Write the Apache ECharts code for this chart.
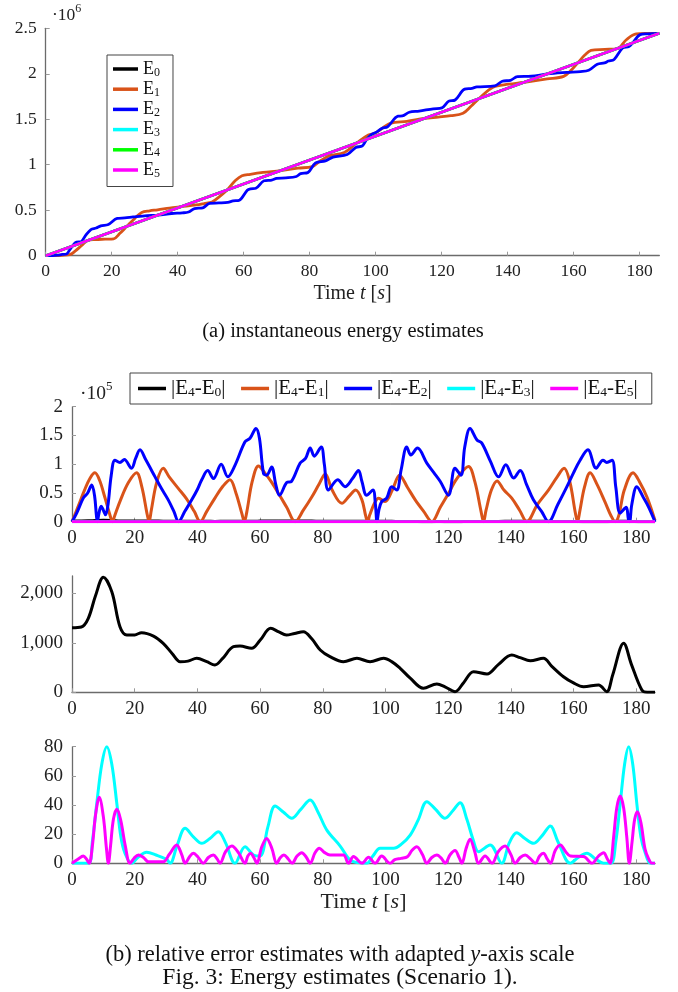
<!DOCTYPE html>
<html><head><meta charset="utf-8">
<script src="https://cdn.jsdelivr.net/npm/echarts@6/dist/echarts.min.js"></script>
<style>html,body{margin:0;padding:0;background:#fff}#c{width:678px;height:992px}</style>
</head><body><div id="c"></div>
<script>
// ---------- data ----------
const xTicks = [0, 20, 40, 60, 80, 100, 120, 140, 160, 180];
const yTicksTop = [0, 0.5, 1, 1.5, 2, 2.5];          // x 10^6
const yTicksDiff = [0, 0.5, 1, 1.5, 2];              // x 10^5
const yTicksE0 = [0, 1000, 2000];
const yTicksSmall = [0, 20, 40, 60, 80];

// (a) energy estimates, values in 10^6
const e0 = [[0, 0], [186, 2.445]];
const e3 = [[0, 0], [186, 2.445]];
const e4 = [[0, 0], [186, 2.445]];
const e5 = [[0, 0], [186, 2.445]];
const e1 = [[0,0],[5,0.005],[7.3,0.011],[9,0.053],[11,0.115],[12.9,0.17],[15,0.177],[18,0.182],[20.6,0.186],[22.5,0.246],[24.6,0.323],[27,0.41],[29.1,0.476],[31.5,0.494],[33.9,0.504],[37.5,0.523],[40.9,0.538],[45.6,0.558],[48,0.573],[50.4,0.59],[52.5,0.645],[55,0.723],[57.5,0.826],[59.5,0.879],[62,0.895],[65.9,0.915],[71.2,0.936],[76.5,0.963],[80.8,0.979],[83,1.036],[86.1,1.1],[90.5,1.135],[94.3,1.24],[97.8,1.327],[99.9,1.348],[104.5,1.455],[109.5,1.477],[114.8,1.509],[119,1.524],[122.8,1.539],[126.5,1.567],[129,1.646],[131.3,1.726],[135.6,1.853],[140.3,1.885],[145.1,1.907],[152,1.943],[157,1.971],[159.5,2.047],[161.3,2.12],[163.5,2.209],[165.3,2.258],[169.5,2.268],[173.3,2.278],[176,2.374],[179,2.438],[182.5,2.444],[186,2.445]];
const e2 = [[0,0],[2,0.001],[3.6,0.006],[5,0.014],[6.3,0.019],[7.2,0.06],[8.1,0.1065],[9.3,0.149],[10.7,0.153],[12,0.218],[13.7,0.287],[15.3,0.304],[16.7,0.328],[19,0.343],[21.7,0.41],[24,0.4155],[26.5,0.426],[30.7,0.4415],[34,0.447],[38.2,0.464],[41.4,0.471],[43.3,0.48],[45.1,0.518],[47.6,0.526],[49.7,0.575],[52.5,0.58],[55.2,0.587],[56.8,0.602],[58.7,0.61],[61.1,0.719],[62.1,0.735],[63.7,0.742],[66.2,0.824],[68.5,0.832],[70,0.85],[72.8,0.855],[76,0.871],[77.3,0.902],[79.5,0.915],[81.8,1.02],[84.8,1.042],[87.1,1.084],[91.4,1.112],[94,1.19],[96,1.207],[97.3,1.279],[98.8,1.334],[100.4,1.361],[102,1.402],[103.6,1.417],[106.8,1.534],[108.1,1.537],[110.2,1.577],[113.2,1.59],[117.5,1.615],[120.1,1.625],[122.2,1.699],[124.1,1.712],[127,1.831],[129.2,1.84],[130.7,1.855],[136.1,1.867],[138.4,1.918],[140.9,1.928],[143,1.969],[147.2,1.973],[152,1.998],[157.9,2.015],[162.1,2.024],[164.6,2.039],[167.2,2.105],[169.4,2.12],[170.6,2.14],[172.3,2.158],[174.9,2.284],[176.8,2.299],[177.9,2.338],[180.2,2.43],[182.4,2.439],[186,2.445]];

// (b) relative errors
const d1 = [[0,0],[2,0.27],[4,0.55],[5.8,0.76],[7.3,0.85],[8.8,0.72],[10.5,0.42],[12.2,0.1],[12.9,0],[13.6,0.1],[15.5,0.38],[18,0.68],[20.6,0.85],[22.3,0.6],[23.9,0.15],[24.6,0],[25.3,0.2],[27,0.68],[29.1,0.93],[31,0.78],[33.9,0.58],[36.5,0.4],[39,0.18],[40.9,0],[43,0.18],[45.6,0.41],[48.2,0.62],[50.4,0.73],[52.3,0.5],[54.2,0.14],[55,0],[55.8,0.18],[57.5,0.7],[59.5,0.97],[61.5,0.85],[63.5,0.7],[65.9,0.49],[68.5,0.25],[71.2,0],[73.8,0.2],[76.5,0.43],[78.8,0.65],[80.8,0.83],[83,0.55],[86.1,0.32],[88.5,0.45],[90.5,0.55],[92.5,0.38],[93.7,0.1],[94.3,0],[95,0.12],[96.5,0.32],[97.8,0.41],[99.9,0.35],[102.2,0.55],[104.5,0.81],[107,0.6],[109.5,0.38],[112.2,0.18],[114.8,0],[117.5,0.25],[120,0.48],[122.8,0.75],[126.5,0.96],[128.5,0.7],[130.5,0.18],[131.3,0],[132.1,0.2],[133.8,0.55],[135.6,0.71],[137.8,0.55],[140.3,0.41],[142.8,0.2],[145.1,0],[148.5,0.3],[152,0.55],[154.8,0.78],[157,0.93],[158.8,0.7],[160.6,0.15],[161.3,0],[162,0.18],[163.5,0.6],[165.3,0.85],[167.5,0.65],[170,0.35],[172,0.1],[173.3,0],[174.5,0.12],[176.2,0.55],[179,0.85],[181,0.7],[183.5,0.42],[186,0.02]];
const d2 = [[0,0],[1.5,0.15],[3.6,0.41],[5,0.5],[6.3,0.64],[7.2,0.45],[7.8,0.1],[8.1,0],[8.5,0.12],[9.3,0.27],[10,0.2],[10.7,0.12],[11.5,0.3],[12.5,0.8],[13.7,1.07],[15.3,1.03],[16.7,1.08],[19,0.93],[20.3,1.1],[21.7,1.25],[23.5,1.08],[26.5,0.78],[28.5,0.58],[30.7,0.38],[32.5,0.18],[34,0],[36,0.18],[38.2,0.38],[40,0.56],[41.4,0.73],[43.3,0.89],[45.1,0.75],[47.6,1.0],[49.7,0.78],[52,0.98],[55.2,1.39],[56.8,1.45],[58.7,1.62],[59.8,1.45],[61.1,0.84],[62.1,0.81],[63.7,0.95],[65,0.65],[66.2,0.46],[68.5,0.68],[70,0.7],[72.8,1.02],[74.5,1.1],[76,1.28],[77.3,1.14],[79.5,1.3],[80.5,1.0],[81.8,0.55],[84.8,0.73],[87.1,0.61],[89.5,0.75],[91.4,0.89],[92.5,0.7],[94,0.46],[96,0.55],[96.8,0.3],[97.3,0],[97.9,0.2],[98.8,0.35],[100.4,0.41],[102,0.61],[103.6,0.55],[105,0.9],[106.8,1.3],[108.1,1.16],[110.2,1.28],[113.2,1.02],[115.5,0.85],[117.5,0.7],[120.1,0.46],[122.2,0.93],[124.1,0.81],[125.3,1.3],[127,1.62],[129.2,1.42],[130.7,1.37],[133.5,1.05],[136.1,0.78],[138.4,0.99],[140.9,0.76],[143,0.89],[145,0.65],[147.2,0.38],[149.8,0.18],[152,0],[155,0.3],[157.9,0.61],[160,0.85],[162.1,1.07],[164.6,1.25],[167.2,0.93],[169.4,1.07],[170.6,1.03],[172.3,1.07],[173.5,0.6],[174.9,0.15],[176.8,0.25],[177.5,0.05],[177.9,0],[178.6,0.3],[180.2,0.61],[182.4,0.41],[184,0.25],[186,0]];
const d0 = [[0,1305],[3,1320],[5.2,1495],[7.5,1950],[10,2323],[12.7,2032],[15.3,1325],[17.5,1158],[20,1160],[22.2,1205],[26,1137],[29.1,990],[32,780],[34.5,618],[37,630],[39.8,687],[43,618],[45.6,551],[48,680],[51.5,921],[53.6,935],[57.3,889],[60,1050],[63.4,1293],[66,1220],[68.4,1158],[71,1190],[73.8,1224],[76.5,1080],[79.2,855],[82.3,720],[86.6,618],[90.9,687],[95.1,618],[99.4,687],[102,620],[104.7,485],[108,280],[112.1,81],[116.4,168],[119,110],[122.2,12],[125,200],[128.1,416],[132.4,370],[136,560],[140.3,753],[143,700],[146.2,639],[150.4,687],[153,530],[156.8,315],[160,190],[163.2,113],[168,147],[170.6,12],[172.5,350],[176,990],[178.5,560],[181.8,46],[183.5,0],[186,0]];
const d3 = [[0,0],[5.2,0],[6.5,15],[7.9,41],[9.5,68],[11.1,80],[12.7,68],[14.3,41],[15.6,18],[16.9,6.9],[19,0],[21,4],[23.8,7.5],[26.8,5.7],[30.2,2.7],[31.3,0],[33.5,12],[36.1,24],[38.8,18],[41.4,13.7],[44,17],[46.7,21.7],[49,14],[52,0],[55.2,11.4],[57.9,5.7],[60,5],[62.5,25],[64.8,39.3],[67.5,35],[70.1,30.9],[73,37],[76,43.4],[78.5,35],[81.3,22.8],[85.5,12],[88.7,2.3],[91,0.5],[94,0],[96,5],[98.3,10.3],[102.6,10.3],[105,13],[107.9,19.4],[110.5,30],[113.2,42.3],[116,37],[119,30.9],[121.5,36],[123.8,41.6],[126,30],[128,16],[129.7,8],[133.4,12.6],[137.1,0],[139.5,14],[141.9,21],[144.5,17],[147.2,13.7],[150,19],[152.6,25.6],[155,15],[159,0],[161.5,4],[164.3,6.9],[167,3],[169.6,0],[172,0],[173.5,15],[174.9,41],[176.3,68],[177.6,80],[178.9,68],[180.2,41],[181.5,18],[182.9,7],[184.5,0],[186,0]];
const d5 = [[0,0],[2,3],[3.6,5],[4.6,3],[5.5,0],[6.5,12],[7.5,33],[8.7,45.3],[10,32],[11,10],[11.6,0],[12.3,12],[13.2,30],[14.3,37],[15.5,30],[17,12],[18.5,0],[19.8,3.5],[21.2,5.7],[22.8,4],[24.4,1],[29.1,1],[31,6],[33.4,12.6],[35,6],[36.1,0],[37.5,4.5],[38.7,6.9],[40.3,4],[41.9,0],[43.5,4],[45.1,5.7],[46.3,3],[47.2,0],[49,8],[51,11.9],[53.2,7],[55.2,0],[56.1,5],[57,6.9],[58,4],[59,0],[60.5,11],[62.1,17.1],[63.8,10],[65.3,0],[66.5,4],[67.6,5.7],[69,3],[70.2,0],[71.8,5],[73.3,7.3],[74.8,4],[76,0],[77.5,7],[78.9,10.3],[80.5,7.5],[82.3,5.7],[86.6,5.7],[88.2,0],[89.8,4.6],[92.5,0],[94.6,4.1],[96.7,0],[98.8,5],[101.5,0],[103,2.5],[105,3.4],[107,4.5],[108.5,9],[110,11.4],[111.8,6],[113.2,0],[114.8,4],[116.4,5.7],[118,3],[119,0],[120.7,6],[122.2,8.7],[123.5,4],[124.4,0],[125.7,10],[127,16.5],[128.5,8],[129.7,0],[131.8,5],[134,0],[136,8],[138.2,11.9],[140,6],[141.4,0],[143,4],[144.6,5.7],[146.3,3],[147.8,0],[149.2,5],[150.4,6.9],[151.6,3],[152.6,0],[154.2,9],[155.8,12.6],[157.5,8],[159,5],[163.2,4.6],[165.9,0],[168,5],[169.6,7.3],[170.8,3],[171.7,0],[172.8,18],[173.8,38],[174.9,46.2],[176,38],[177,18],[177.8,0],[178.7,15],[179.5,30],[180.4,35.4],[181.5,28],[182.8,10],[183.9,3.4],[185,0],[186,0]];

// ---------- styling ----------
const FONT = 'Liberation Serif';
const C = {e0:'#000000', e1:'#D95319', e2:'#0000FF', e3:'#00FFFF', e4:'#00FF00', e5:'#FF00FF'};
const axisGray = '#6b6b6b';
const labelColor = '#222';

function xAxisCfg(gridIndex, fs, nameFs) {
  const cfg = {
    type:'value', gridIndex, min:0, max:186,
    axisLine:{show:true, lineStyle:{color:axisGray, width:1.3}},
    axisTick:{show:true, inside:true, length:4, customValues:xTicks, lineStyle:{color:'#999', width:1}},
    axisLabel:{customValues:xTicks, margin:7, color:labelColor, fontFamily:FONT, fontSize:fs},
    splitLine:{show:false}
  };
  if (nameFs) {
    cfg.name = '{r|Time }{i|t}{r| [}{i|s}{r|]}';
    cfg.nameLocation = 'middle';
    cfg.nameGap = 28;
    cfg.nameTextStyle = {rich:{
      r:{fontFamily:FONT, fontSize:nameFs, color:labelColor},
      i:{fontFamily:FONT, fontSize:nameFs, fontStyle:'italic', color:labelColor}
    }};
  }
  return cfg;
}
function yAxisCfg(gridIndex, max, ticks, fmt, fs) {
  return {
    type:'value', gridIndex, min:0, max,
    axisLine:{show:true, lineStyle:{color:axisGray, width:1.3}},
    axisTick:{show:true, inside:true, length:4, customValues:ticks, lineStyle:{color:'#999', width:1}},
    axisLabel:{customValues:ticks, margin:9, color:labelColor, fontFamily:FONT, fontSize:fs, formatter:fmt},
    splitLine:{show:false}
  };
}
function line(name, data, color, xi, yi, lw, extra) {
  return Object.assign({
    name, type:'line', xAxisIndex:xi, yAxisIndex:yi, data,
    showSymbol:false, symbol:'none', smooth:0.35, animation:false,
    lineStyle:{color, width:lw}, itemStyle:{color}, clip:true, z:2
  }, extra||{});
}
const richLeg1 = {
  m:{fontFamily:FONT, fontSize:18, color:'#111', lineHeight:19},
  s:{fontFamily:FONT, fontSize:12, color:'#111', lineHeight:12, verticalAlign:'bottom'}
};
const richLeg2 = {
  m:{fontFamily:FONT, fontSize:21, color:'#111', lineHeight:21},
  s:{fontFamily:FONT, fontSize:13.5, color:'#111', lineHeight:13, verticalAlign:'bottom'}
};
const leg1Sub = {E0:'0',E1:'1',E2:'2',E3:'3',E4:'4',E5:'5'};
const leg2Sub = {D0:'0',D1:'1',D2:'2',D3:'3',D5:'5'};
const scale5 = arr => arr.map(p => [p[0], p[1] / 1e5]);
const supRich = (fa, fb) => ({a:{fontFamily:FONT,fontSize:fa,fill:labelColor,lineHeight:fa+4,verticalAlign:'bottom'}, b:{fontFamily:FONT,fontSize:fb,fill:labelColor,lineHeight:fb+1,verticalAlign:'top'}});

const chart = echarts.init(document.getElementById('c'), null, {renderer:'canvas'});
chart.setOption({
  backgroundColor:'#fff',
  animation:false,
  grid:[
    {left:45.7, top:28.3, width:613.6, height:227.4, outerBoundsMode:'none'},
    {left:72, top:406.7, width:583, height:115, outerBoundsMode:'none'},
    {left:72, top:576, width:583, height:116.3, outerBoundsMode:'none'},
    {left:72, top:746.7, width:583, height:116.6, outerBoundsMode:'none'}
  ],
  xAxis:[xAxisCfg(0,17.5,20), xAxisCfg(1,19), xAxisCfg(2,19), xAxisCfg(3,19,22)],
  yAxis:[
    yAxisCfg(0, 2.5, yTicksTop, v => String(v), 17.5),
    yAxisCfg(1, 2, yTicksDiff, v => String(v), 19),
    yAxisCfg(2, 2350, yTicksE0, v => v === 0 ? '0' : (v/1000) + ',000', 19),
    yAxisCfg(3, 80, yTicksSmall, v => String(v), 19)
  ],
  legend:[
    {
      data:['E0','E1','E2','E3','E4','E5'], orient:'vertical', left:107, top:55,
      icon:'rect', itemWidth:25, itemHeight:3.5, itemGap:1.7,
      padding:[5,13,7,6], borderColor:'#444', borderWidth:1, backgroundColor:'#fff',
      selectedMode:false,
      formatter: n => '{m|E}{s|' + leg1Sub[n] + '}',
      textStyle:{rich:richLeg1}
    },
    {
      data:['D0','D1','D2','D3','D5'], orient:'horizontal', left:130, top:373,
      icon:'rect', itemWidth:28, itemHeight:3.5, itemGap:15.5,
      padding:[5,14,5,8], borderColor:'#444', borderWidth:1, backgroundColor:'#fff',
      selectedMode:false,
      formatter: n => '{m||E}{s|4}{m|-E}{s|' + leg2Sub[n] + '}{m||}',
      textStyle:{rich:richLeg2}
    }
  ],
  series:[
    line('E0', e0, C.e0, 0, 0, 2.8, {smooth:false}),
    line('E1', e1, C.e1, 0, 0, 2.8),
    line('E2', e2, C.e2, 0, 0, 2.8),
    line('E3', e3, C.e3, 0, 0, 2.8, {smooth:false}),
    line('E4', e4, C.e4, 0, 0, 2.8, {smooth:false}),
    line('E5', e5, C.e5, 0, 0, 2.8, {smooth:false}),
    line('D0', scale5(d0), C.e0, 1, 1, 3),
    line('D1', d1, C.e1, 1, 1, 3),
    line('D2', d2, C.e2, 1, 1, 3),
    line('D3', scale5(d3), C.e3, 1, 1, 3),
    line('D5', scale5(d5), C.e5, 1, 1, 3),
    line('d0b', d0, C.e0, 2, 2, 3),
    line('d3b', d3, C.e3, 3, 3, 3),
    line('d5b', d5, C.e5, 3, 3, 3)
  ],
  graphic:[
    {type:'text', left:52, top:3, style:{text:'{a|·10}{b|6}', rich:supRich(17.5,12)}},
    {type:'text', left:80, top:380, style:{text:'{a|·10}{b|5}', rich:supRich(19.5,13)}},
    {type:'text', x:343, y:332, style:{text:'(a) instantaneous energy estimates', fontFamily:FONT, fontSize:20.5, fill:'#111', align:'center', verticalAlign:'middle', textAlign:'center', textVerticalAlign:'middle'}},
    {type:'text', x:340, y:955, style:{text:'{n|(b) relative error estimates with adapted }{i|y}{n|-axis scale}', rich:{n:{fontFamily:FONT,fontSize:22.5,fill:'#111'}, i:{fontFamily:FONT,fontSize:22.5,fontStyle:'italic',fill:'#111'}}, align:'center', verticalAlign:'middle', textAlign:'center', textVerticalAlign:'middle'}},
    {type:'text', x:340, y:978, style:{text:'Fig. 3: Energy estimates (Scenario 1).', fontFamily:FONT, fontSize:23.5, fill:'#111', align:'center', verticalAlign:'middle', textAlign:'center', textVerticalAlign:'middle'}}
  ]
});
</script></body></html>
